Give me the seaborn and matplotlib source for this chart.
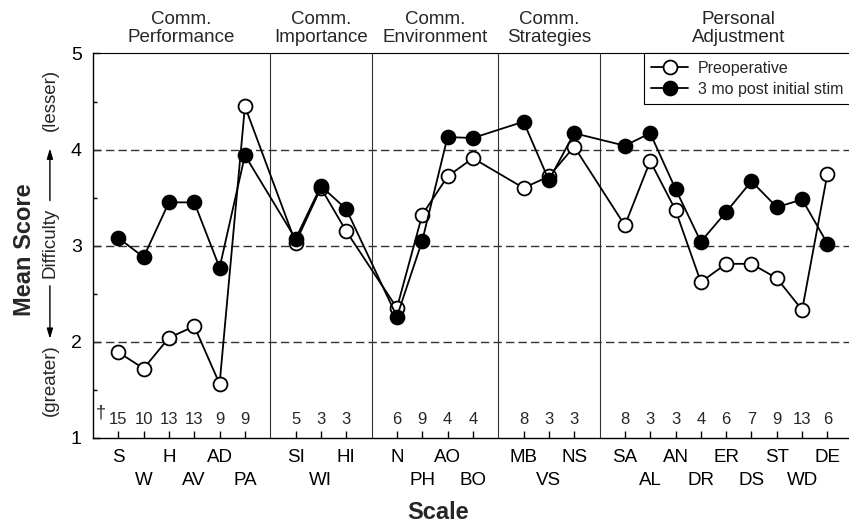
import matplotlib
matplotlib.use("Agg")
import matplotlib.pyplot as plt
import seaborn as sns
import pandas as pd
import numpy as np

sns.set_theme(style="white")
plt.rcParams['font.family'] = ['Liberation Sans', 'DejaVu Sans']

# ---- data ----
scales = ["S", "W", "H", "AV", "AD", "PA",
          "SI", "WI", "HI",
          "N", "PH", "AO", "BO",
          "MB", "VS", "NS",
          "SA", "AL", "AN", "DR", "ER", "DS", "ST", "WD", "DE"]
group_sizes = [6, 3, 4, 3, 9]
group_names = ["Comm.\nPerformance", "Comm.\nImportance", "Comm.\nEnvironment",
               "Comm.\nStrategies", "Personal\nAdjustment"]
preop = [1.89, 1.72, 2.04, 2.16, 1.56, 4.45,
         3.03, 3.60, 3.15,
         2.35, 3.32, 3.72, 3.91,
         3.60, 3.72, 4.03,
         3.21, 3.88, 3.37, 2.62, 2.81, 2.81, 2.66, 2.33, 3.75]
post = [3.08, 2.88, 3.45, 3.45, 2.77, 3.94,
        3.07, 3.62, 3.38,
        2.26, 3.05, 4.13, 4.12,
        4.29, 3.68, 4.17,
        4.04, 4.17, 3.59, 3.04, 3.35, 3.67, 3.40, 3.48, 3.02]
n_items = ["15", "10", "13", "13", "9", "9",
           "5", "3", "3",
           "6", "9", "4", "4",
           "8", "3", "3",
           "8", "3", "3", "4", "6", "7", "9", "13", "6"]
series_names = ["Preoperative", "3 mo post initial stim"]

# positions with a gap between groups
positions = []
row = []
separators = []
pos = 0
for gi, g in enumerate(group_sizes):
    for k in range(g):
        pos += 1
        positions.append(pos)
        row.append(k % 2)
    pos += 1
    if gi < len(group_sizes) - 1:
        separators.append(pos)
group_start = [0] + separators
group_end = separators + [30]

df = pd.DataFrame({"x": positions * 2,
                   "score": preop + post,
                   "series": [series_names[0]] * len(preop) + [series_names[1]] * len(post)})

fig = plt.figure(figsize=(8.49, 5.27), dpi=100)
ax = fig.add_axes([0.1095, 0.1695, 0.8905, 0.729])

for s, face in zip(series_names, ["white", "black"]):
    sub = df[df["series"] == s]
    sns.lineplot(data=sub, x="x", y="score", ax=ax, color="black", lw=1.3,
                 marker="o", markersize=10, markerfacecolor=face,
                 markeredgecolor="black", markeredgewidth=1.3, label=s,
                 sort=False, zorder=3)

ax.set_xlim(0, 29.85)
ax.set_ylim(1, 5)

# grid lines and separators
for yv in [2, 3, 4]:
    ax.axhline(yv, color="#333333", lw=1.0, ls=(0, (6, 3)), zorder=1)
for sx in separators:
    ax.axvline(sx, color="#333333", lw=0.8, zorder=1)

# spines
for sp in ["left", "bottom", "top"]:
    ax.spines[sp].set_color("black")
    ax.spines[sp].set_linewidth(1.0)
ax.spines["right"].set_visible(False)
ax.spines["top"].set_linewidth(0.8)

# y ticks
ax.set_yticks([1, 2, 3, 4, 5])
ax.set_yticks([1.5, 2.5, 3.5, 4.5], minor=True)
ax.tick_params(axis="y", which="both", direction="in", left=True, length=5,
               width=1, labelsize=14, pad=8, colors="black")
ax.tick_params(axis="y", which="minor", length=3)

# x ticks: top row as major, bottom row as minor
top_pos = [p for p, r in zip(positions, row) if r == 0]
top_lab = [s for s, r in zip(scales, row) if r == 0]
bot_pos = [p for p, r in zip(positions, row) if r == 1]
bot_lab = [s for s, r in zip(scales, row) if r == 1]
ax.set_xticks(top_pos)
ax.set_xticklabels(top_lab)
ax.set_xticks(bot_pos, minor=True)
ax.set_xticklabels(bot_lab, minor=True)
ax.tick_params(axis="x", which="major", direction="in", bottom=True, length=5,
               width=1, labelsize=13.5, pad=8, colors="black")
ax.tick_params(axis="x", which="minor", direction="in", bottom=True, length=5,
               width=1, labelsize=13.5, pad=25, colors="black")

# item counts
ax.text(0.3, 1.26, "†", ha="center", va="center", fontsize=13)
for xp, n in zip(positions, n_items):
    ax.text(xp, 1.19, n, ha="center", va="center", fontsize=12)

# group headers
for gs, ge, name in zip(group_start, group_end, group_names):
    cx = (gs + ge) / 2
    if ge == 30:
        cx = 25.5
    ax.text(cx, 5.08, name, ha="center", va="bottom", fontsize=13.5,
            linespacing=1.1, clip_on=False)

# axis labels
ax.set_xlabel("Scale", fontsize=17, fontweight="bold")
ax.xaxis.set_label_coords(0.456, -0.165)
ax.set_ylabel("Mean Score", fontsize=17, fontweight="bold")
ax.yaxis.set_label_coords(-0.076, 0.49)

# difficulty annotation
xd = -1.70
ax.text(xd, 4.52, "(lesser)", rotation=90, ha="center", va="center", fontsize=13.5, clip_on=False)
ax.text(xd, 3.03, "Difficulty", rotation=90, ha="center", va="center", fontsize=13.5, clip_on=False)
ax.text(xd, 1.60, "(greater)", rotation=90, ha="center", va="center", fontsize=13.5, clip_on=False)
ax.annotate("", xy=(xd, 4.04), xytext=(xd, 3.44), annotation_clip=False,
            arrowprops=dict(arrowstyle="-|>,head_width=0.15,head_length=0.5", color="black", lw=1))
ax.annotate("", xy=(xd, 2.0), xytext=(xd, 2.61), annotation_clip=False,
            arrowprops=dict(arrowstyle="-|>,head_width=0.15,head_length=0.5", color="black", lw=1))

leg = ax.legend(loc="upper left", bbox_to_anchor=(0.729, 1.0), fontsize=11.5,
                frameon=True, fancybox=False, edgecolor="black", framealpha=1,
                borderpad=0.45, handlelength=2.3, handletextpad=0.6,
                labelspacing=0.4, borderaxespad=0.0)
leg.get_frame().set_linewidth(0.8)

fig.savefig("out.png", dpi=100)
